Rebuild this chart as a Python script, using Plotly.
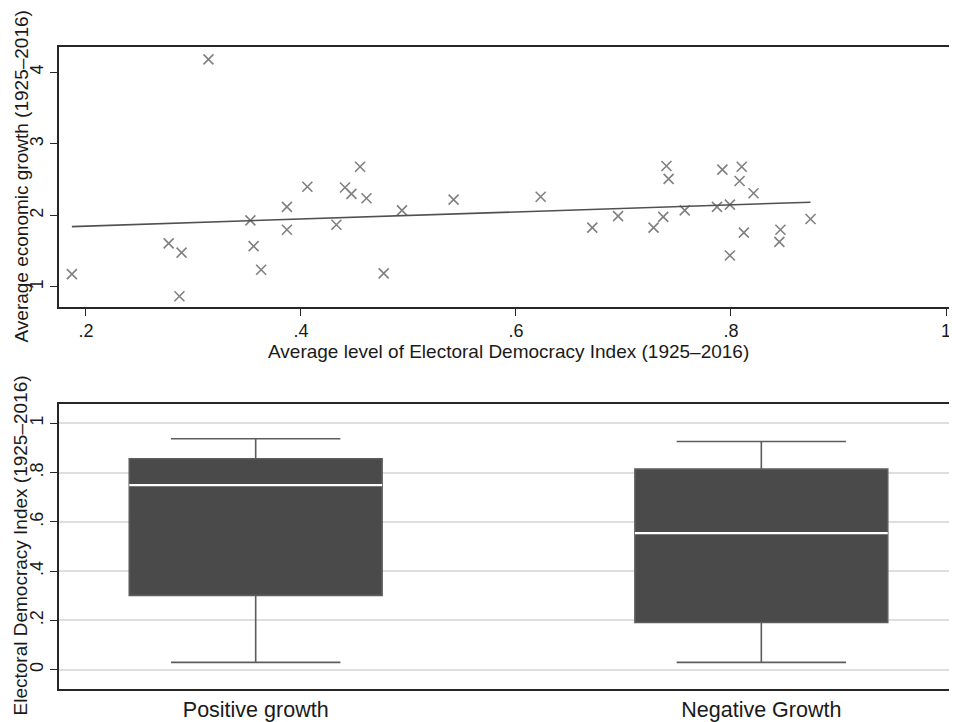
import numpy as np
import plotly.graph_objects as go

# ---- Scatter data: average democracy index vs average growth ----
democracy = [0.187, 0.314, 0.277, 0.289, 0.287, 0.353, 0.356, 0.363, 0.387, 0.387,
             0.406, 0.433, 0.441, 0.447, 0.455, 0.461, 0.477, 0.494, 0.542,
             0.623, 0.671, 0.695, 0.728, 0.737, 0.740, 0.742, 0.757, 0.787, 0.792,
             0.799, 0.799, 0.810, 0.808, 0.812, 0.821, 0.846, 0.845, 0.874]
growth = [1.18, 4.18, 1.61, 1.48, 0.87, 1.93, 1.57, 1.24, 2.12, 1.80,
          2.40, 1.87, 2.39, 2.30, 2.68, 2.24, 1.19, 2.07, 2.22,
          2.26, 1.83, 1.99, 1.83, 1.98, 2.69, 2.51, 2.07, 2.12, 2.64,
          2.15, 1.44, 2.68, 2.48, 1.76, 2.31, 1.80, 1.63, 1.95]

x_tickvals = [0.2, 0.4, 0.6, 0.8, 1.0]
x_ticktext = [".2", ".4", ".6", ".8", "1"]
y_tickvals = [1, 2, 3, 4]
y_ticktext = ["1", "2", "3", "4"]

# ---- Box plot data: Electoral Democracy Index by growth group ----
groups = ["Positive growth", "Negative Growth"]
q1 = [0.302, 0.192]
median = [0.749, 0.554]
q3 = [0.856, 0.814]
lower_whisker = [0.030, 0.030]
upper_whisker = [0.937, 0.926]
box_tickvals = [0, 0.2, 0.4, 0.6, 0.8, 1.0]
box_ticktext = ["0", ".2", ".4", ".6", ".8", "1"]

FONT = "Liberation Sans, Arial, sans-serif"
TXT = "#1a1a1a"
OFF = 8  # page body margin

# linear fit
slope, intercept = np.polyfit(democracy, growth, 1)
fit_x = [min(democracy), max(democracy)]
fit_y = [intercept + slope * v for v in fit_x]

fig = go.Figure()

fig.add_trace(go.Scatter(
    x=democracy, y=growth, mode="markers",
    marker=dict(symbol="x-thin-open", size=10, color="#808080",
                line=dict(width=1.6, color="#808080")),
    xaxis="x", yaxis="y", showlegend=False))

fig.add_trace(go.Scatter(
    x=fit_x, y=fit_y, mode="lines",
    line=dict(color="#505050", width=1.6),
    xaxis="x", yaxis="y", showlegend=False))

fig.add_trace(go.Box(
    x=groups, q1=q1, median=median, q3=q3,
    lowerfence=lower_whisker, upperfence=upper_whisker,
    width=0.5, whiskerwidth=0.67,
    fillcolor="#4a4a4a", line=dict(color="#5c5c5c", width=1.6),
    xaxis="x2", yaxis="y2", showlegend=False, boxpoints=False))

# white median line overlay
fig.add_trace(go.Box(
    x=groups, q1=median, median=median, q3=median,
    lowerfence=median, upperfence=median,
    width=0.5, whiskerwidth=0,
    fillcolor="rgba(0,0,0,0)", line=dict(color="white", width=2.2),
    xaxis="x2", yaxis="y2", showlegend=False, boxpoints=False))

W, H = 957 - OFF, 722 - OFF
def dom(top_px, bot_px):
    return [(H - (bot_px - OFF)) / H, (H - (top_px - OFF)) / H]

def px_x(px):
    return (px - 59) / 897

def px_y(py):
    return (H - (py - OFF)) / H

axis_common = dict(showline=True, mirror=True, linecolor="#262626", linewidth=1.6,
                   zeroline=False,
                   tickfont=dict(family=FONT, size=18, color=TXT))

fig.update_layout(
    width=W, height=H,
    margin=dict(l=59 - OFF, r=1, t=0, b=0),
    paper_bgcolor="white", plot_bgcolor="white",
    boxmode="overlay",
    font=dict(family=FONT, color=TXT),
    xaxis=dict(domain=[0, 1], range=[0.175, 1.0093], anchor="y",
               tickvals=x_tickvals, ticktext=x_ticktext,
               ticks="outside", ticklen=7, tickwidth=1.4, tickcolor="#262626",
               showgrid=False, **axis_common),
    yaxis=dict(domain=dom(47, 307), range=[0.72, 4.353], anchor="x",
               tickvals=y_tickvals, ticktext=y_ticktext, tickangle=-90,
               ticks="outside", ticklen=7, tickwidth=1.4, tickcolor="#262626",
               showgrid=False, **axis_common),
    xaxis2=dict(domain=[0, 1], range=[-0.389, 1.385], anchor="y2",
                type="category", categoryorder="array", categoryarray=groups,
                ticks="", showgrid=False, ticklabelstandoff=0,
                showline=True, mirror=True, linecolor="#262626", linewidth=1.6,
                zeroline=False, tickfont=dict(family=FONT, size=21.5, color=TXT)),
    yaxis2=dict(domain=dom(403.7, 689), range=[-0.078, 1.0795], anchor="x2",
                tickvals=box_tickvals, ticktext=box_ticktext, tickangle=-90,
                ticks="outside", ticklen=7, tickwidth=1.4, tickcolor="#262626",
                showgrid=True, gridcolor="#dedede", gridwidth=1.5,
                **axis_common),
    annotations=[
        dict(text="Average economic growth (1925\u20132016)", xref="paper", yref="paper",
             x=px_x(20.5), y=px_y(177), textangle=-90, showarrow=False,
             xanchor="center", yanchor="middle", font=dict(family=FONT, size=19, color=TXT)),
        dict(text="Average level of Electoral Democracy Index (1925\u20132016)", xref="paper", yref="paper",
             x=px_x(508), y=px_y(352), showarrow=False,
             xanchor="center", yanchor="middle", font=dict(family=FONT, size=19, color=TXT)),
        dict(text="Electoral Democracy Index (1925\u20132016)", xref="paper", yref="paper",
             x=px_x(19.5), y=px_y(546), textangle=-90, showarrow=False,
             xanchor="center", yanchor="middle", font=dict(family=FONT, size=19, color=TXT)),
    ],
)

fig.write_html("out.html")
